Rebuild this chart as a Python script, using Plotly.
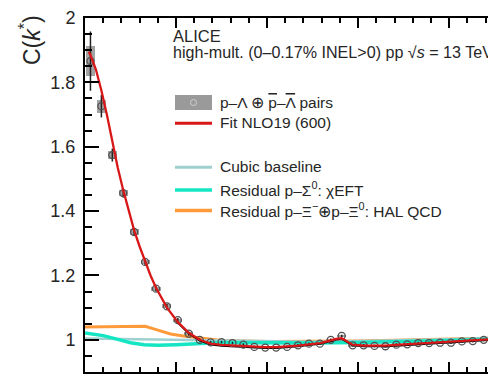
import plotly.graph_objects as go

# ---------------- data ----------------
k_star = [6, 18, 30, 42, 54, 66, 78, 90, 102, 114, 126, 138, 150, 162, 174, 186, 198,
          210, 222, 234, 246, 258, 270, 282, 294, 306, 318, 330, 342, 354, 366, 378,
          390, 402, 414, 426, 438]
c_data = [1.866, 1.726, 1.574, 1.456, 1.335, 1.242, 1.159, 1.104, 1.061, 1.019, 1.000,
          0.992, 0.993, 0.990, 0.985, 0.978, 0.976, 0.976, 0.978, 0.983, 0.988, 0.988,
          1.000, 1.012, 0.983, 0.983, 0.981, 0.980, 0.985, 0.986, 0.990, 0.990, 0.991,
          0.991, 0.995, 0.996, 1.000]
stat_err = [0.092, 0.035, 0.020, 0.014, 0.012, 0.010, 0.009, 0.008, 0.007, 0.006, 0.005,
            0.005, 0.004, 0.004, 0.004, 0.004, 0.004, 0.004, 0.004, 0.004, 0.004, 0.004,
            0.004, 0.004, 0.004, 0.004, 0.004, 0.004, 0.004, 0.004, 0.004, 0.004, 0.004,
            0.004, 0.004, 0.004, 0.004]
sys_err = [0.047, 0.020, 0.012, 0.009, 0.008, 0.007, 0.006, 0.006, 0.005, 0.005, 0.004,
           0.004, 0.004, 0.004, 0.004, 0.004, 0.004, 0.004, 0.004, 0.004, 0.004, 0.004,
           0.004, 0.004, 0.004, 0.004, 0.004, 0.004, 0.004, 0.004, 0.004, 0.004, 0.004,
           0.004, 0.004, 0.004, 0.004]

fit_k = [4, 6, 12, 18, 24, 30, 36, 42, 48, 54, 60, 66, 72, 78, 84, 90, 102, 114, 126,
         138, 150, 162, 174, 186, 198, 210, 222, 234, 246, 258, 270, 276, 282, 288, 294,
         306, 318, 330, 342, 354, 366, 378, 390, 402, 414, 426, 438, 445]
fit_c = [1.895, 1.885, 1.840, 1.775, 1.700, 1.615, 1.535, 1.465, 1.400, 1.340, 1.290,
         1.245, 1.200, 1.162, 1.130, 1.100, 1.055, 1.022, 1.000, 0.988, 0.984, 0.982,
         0.980, 0.978, 0.977, 0.977, 0.979, 0.982, 0.986, 0.990, 0.998, 1.003, 1.005,
         0.995, 0.985, 0.982, 0.981, 0.982, 0.984, 0.986, 0.988, 0.990, 0.992, 0.994,
         0.996, 0.998, 1.000, 1.002]

black_k = [100, 114, 126, 138, 150, 162, 174, 186, 198, 210, 222, 234, 246, 258, 270,
           276, 282, 288, 294, 306, 318, 330, 342, 354, 366, 378, 390, 402, 414, 426,
           438, 445]
black_c = [1.058, 1.019, 0.997, 0.985, 0.981, 0.979, 0.977, 0.975, 0.974, 0.974, 0.976,
           0.979, 0.983, 0.987, 0.995, 1.000, 1.002, 0.992, 0.982, 0.979, 0.978, 0.979,
           0.981, 0.983, 0.985, 0.987, 0.989, 0.991, 0.993, 0.995, 0.997, 0.999]

base_k = [0, 50, 100, 150, 200, 250, 300, 350, 400, 445]
base_c = [1.004, 1.002, 0.999, 0.996, 0.994, 0.994, 0.996, 0.998, 1.002, 1.006]

sigma_k = [0, 10, 20, 35, 50, 65, 80, 100, 120, 150, 200, 250, 300, 350, 400, 445]
sigma_c = [1.021, 1.018, 1.013, 1.002, 0.991, 0.985, 0.983, 0.985, 0.988, 0.992, 0.991,
           0.990, 0.992, 0.994, 0.998, 1.002]

xi_k = [0, 30, 66, 80, 94, 108, 120, 135, 150, 200, 300, 445]
xi_c = [1.040, 1.041, 1.042, 1.030, 1.018, 1.012, 1.008, 1.003, 0.998, 0.995, 0.996, 1.005]

# ---------------- layout geometry ----------------
W, H = 488, 375
ML, MT, MB, MR = 85, 18, 3, 0
PW, PH = W - ML - MR, H - MT - MB


def px(x):
    return (x - ML) / PW


def py(y):
    return (H - MB - y) / PH


RED = "#d81818"
BASE = "#9fd0d0"
CYAN = "#14e6c4"
ORANGE = "#ff9a3a"
FONT = "Liberation Sans, Arial, sans-serif"
TXT = "#262626"

fig = go.Figure()

fig.add_trace(go.Scatter(x=xi_k, y=xi_c, mode="lines",
                         line=dict(color=ORANGE, width=3), showlegend=False))
fig.add_trace(go.Scatter(x=base_k, y=base_c, mode="lines",
                         line=dict(color=BASE, width=2.5), showlegend=False))
fig.add_trace(go.Scatter(x=sigma_k, y=sigma_c, mode="lines",
                         line=dict(color=CYAN, width=3.5), showlegend=False))

# systematic boxes
fig.add_trace(go.Bar(x=k_star, y=[2 * s for s in sys_err],
                     base=[c - s for c, s in zip(c_data, sys_err)],
                     width=10, marker=dict(color="rgba(140,140,140,0.8)", line=dict(width=0)),
                     showlegend=False))

fig.add_trace(go.Scatter(x=black_k, y=black_c, mode="lines",
                         line=dict(color="black", width=1.5), showlegend=False))

fig.add_trace(go.Scatter(x=k_star, y=c_data, mode="markers",
                         marker=dict(symbol="circle-open", size=7, color="#505050",
                                     line=dict(width=1.3)),
                         error_y=dict(type="data", array=stat_err, color="#222222",
                                      thickness=1.5, width=0),
                         showlegend=False))

fig.add_trace(go.Scatter(x=fit_k, y=fit_c, mode="lines",
                         line=dict(color=RED, width=2.3), showlegend=False))

shapes = []
# legend symbols
shapes.append(dict(type="rect", xref="paper", yref="paper",
                   x0=px(175), x1=px(212), y0=py(110), y1=py(95),
                   fillcolor="#9a9a9a", line=dict(width=0)))
shapes.append(dict(type="circle", xref="paper", yref="paper",
                   x0=px(190.5), x1=px(196.5), y0=py(105.5), y1=py(99.5),
                   line=dict(color="#d0d0d0", width=1)))
for yy, col, wd in [(123.3, RED, 3), (167.3, BASE, 3), (190, CYAN, 3.5), (210.5, ORANGE, 3.5)]:
    shapes.append(dict(type="line", xref="paper", yref="paper",
                       x0=px(175), x1=px(212), y0=py(yy), y1=py(yy),
                       line=dict(color=col, width=wd)))

annotations = []


def add_text(t, x, y, size=15.5):
    annotations.append(dict(text=t, xref="paper", yref="paper", x=px(x), y=py(y),
                            xanchor="left", yanchor="middle", showarrow=False,
                            font=dict(family=FONT, size=size, color=TXT)))


OV = '<span style="text-decoration:overline">'
add_text("ALICE", 171, 35.5, 16.5)
add_text("high-mult. (0–0.17% INEL>0) pp √<i>s</i> = 13 TeV", 171, 52.5, 16.1)
add_text("p–Λ ⊕ " + OV + "p</span>–" + OV + "Λ</span> pairs", 218, 103)
add_text("Fit NLO19 (600)", 218, 122.5)
add_text("Cubic baseline", 218, 167)
add_text("Residual p–Σ<sup>0</sup>: χEFT", 218, 189)
add_text("Residual p–Ξ<sup>−</sup>⊕p–Ξ<sup>0</sup>: HAL QCD", 218, 210.5)

annotations.append(dict(text="C(<i>k</i><sup>*</sup>)", xref="paper", yref="paper",
                        x=px(30), y=py(40), xanchor="center", yanchor="middle",
                        textangle=-90, showarrow=False,
                        font=dict(family=FONT, size=23, color=TXT)))

fig.update_layout(
    width=W, height=H,
    margin=dict(l=ML, r=MR, t=MT, b=MB, pad=0),
    paper_bgcolor="white", plot_bgcolor="white",
    shapes=shapes, annotations=annotations, bargap=0,
    xaxis=dict(range=[0, 442.7], showgrid=False, zeroline=False,
               showline=True, linecolor="black", linewidth=2, mirror="ticks",
               ticks="inside", ticklen=10, tickwidth=1.5, tickcolor="black",
               tick0=0, dtick=100, showticklabels=False,
               minor=dict(dtick=20, ticks="inside", ticklen=5, tickwidth=1.5,
                          tickcolor="black", showgrid=False)),
    yaxis=dict(range=[0.9, 2.0], showgrid=False, zeroline=False,
               showline=True, linecolor="black", linewidth=2, mirror=False,
               ticks="inside", ticklen=14, tickwidth=1.5, tickcolor="black",
               tick0=1, dtick=0.2, ticklabelstandoff=4,
               tickfont=dict(family=FONT, size=18, color=TXT),
               minor=dict(dtick=0.05, ticks="inside", ticklen=7, tickwidth=1.5,
                          tickcolor="black", showgrid=False)),
)

fig.write_html("out.html")
